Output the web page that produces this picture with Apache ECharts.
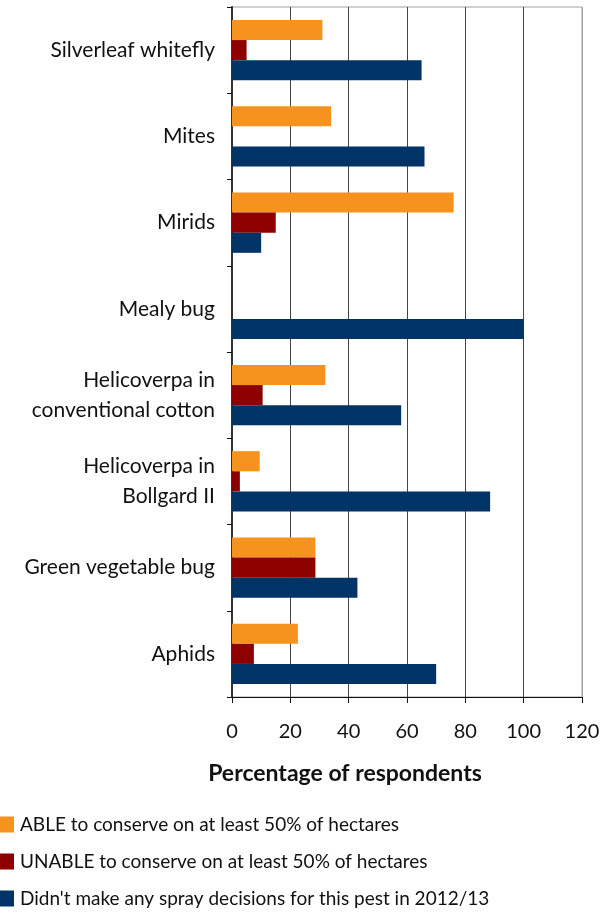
<!DOCTYPE html>
<html>
<head>
<meta charset="utf-8">
<script src="https://cdn.jsdelivr.net/npm/echarts@6/dist/echarts.min.js"></script>
<style>html,body{margin:0;padding:0;background:#fff;}#c{width:613px;height:913px;}</style>
</head>
<body>
<div id="c"></div>
<script>
const categories = ['Aphids', 'Green vegetable bug', 'Helicoverpa in\nBollgard II', 'Helicoverpa in\nconventional cotton', 'Mealy bug', 'Mirids', 'Mites', 'Silverleaf whitefly'];
const ableValues = [22.6, 28.6, 9.5, 32, 0, 76, 34, 31];
const unableValues = [7.5, 28.6, 2.7, 10.5, 0, 15, 0, 5];
const noDecisionValues = [70, 43, 88.5, 58, 100, 10, 66, 65];
const xTicks = { min: 0, max: 120, interval: 20 };
const seriesNames = ['ABLE to conserve on at least 50% of hectares', 'UNABLE to conserve on at least 50% of hectares', "Didn't make any spray decisions for this pest in 2012/13"];
const axisTitle = 'Percentage of respondents';

const FONT = 'Lato';
const chart = echarts.init(document.getElementById('c'), null, { renderer: 'canvas' });
chart.setOption({
  animation: false,
  textStyle: { fontFamily: FONT },
  grid: { left: 232, right: 31, top: 7, bottom: 216, show: true, borderColor: '#a0a0a0', borderWidth: 1, containLabel: false },
  xAxis: {
    type: 'value', min: xTicks.min, max: xTicks.max, interval: xTicks.interval,
    axisLine: { show: true, lineStyle: { color: '#111', width: 1 } },
    axisTick: { show: true, length: 6, lineStyle: { color: '#111' } },
    axisLabel: { color: '#111', fontSize: 20, fontFamily: FONT, margin: 25 },
    splitLine: { show: true, lineStyle: { color: ['#a0a0a0', '#444', '#444', '#444', '#444', '#444', '#a0a0a0'], width: 1 } }
  },
  yAxis: {
    type: 'category', data: categories,
    axisLine: { show: true, lineStyle: { color: '#333', width: 2 } },
    axisTick: { show: true, length: 5, lineStyle: { color: '#111' } },
    axisLabel: { color: '#111', fontSize: 21, fontFamily: FONT, margin: 17, lineHeight: 30, align: 'right' }
  },
  legend: {
    orient: 'vertical', left: 0, top: 815, height: 98, padding: 0, icon: 'rect', itemWidth: 14, itemHeight: 16, itemGap: 18,
    data: seriesNames,
    textStyle: { fontSize: 19, color: '#111', fontFamily: FONT, lineHeight: 16, padding: [0, 0, 0, 1] }
  },
  graphic: [{
    type: 'text', x: 345, y: 774,
    style: { text: axisTitle, fontSize: 23, fontWeight: 'bold', fontFamily: FONT, fill: '#111', textAlign: 'center', textVerticalAlign: 'middle' }
  }],
  series: [
    { name: seriesNames[0], type: 'bar', data: ableValues, itemStyle: { color: '#F6931F' }, barGap: '0%', barCategoryGap: '30%' },
    { name: seriesNames[1], type: 'bar', data: unableValues, itemStyle: { color: '#8E0000' }, barGap: '0%', barCategoryGap: '30%' },
    { name: seriesNames[2], type: 'bar', data: noDecisionValues, itemStyle: { color: '#003366' }, barGap: '0%', barCategoryGap: '30%' }
  ]
});
</script>
</body>
</html>
